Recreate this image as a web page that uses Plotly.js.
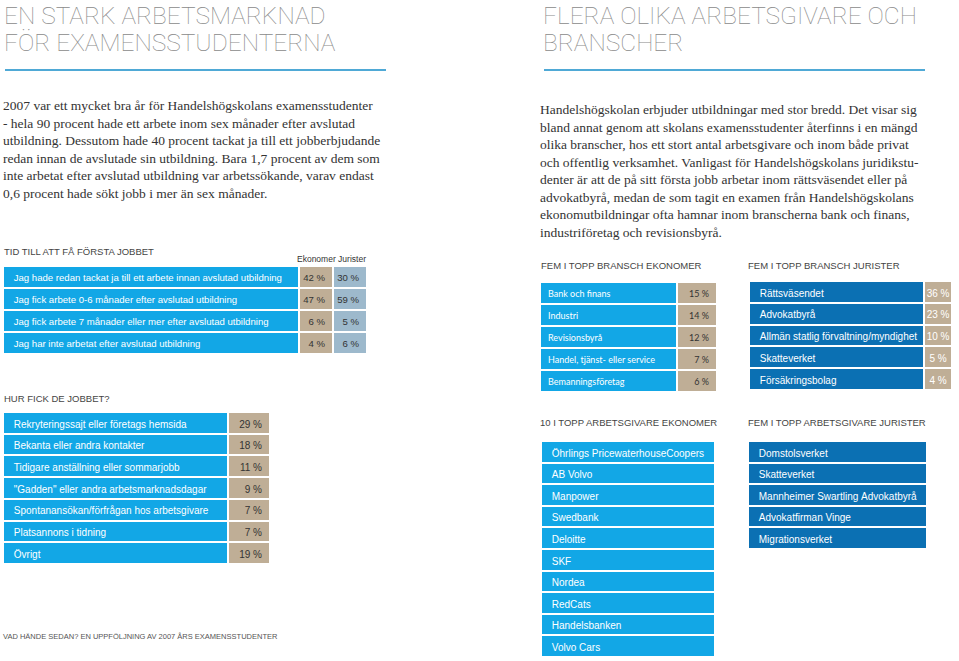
<!DOCTYPE html>
<html>
<head>
<meta charset="utf-8">
<script src="https://cdn.plot.ly/plotly-3.0.1.min.js"></script>
<style>html,body{margin:0;padding:0;background:#fff;}#chart{width:959px;height:661px;}</style>
</head>
<body>
<div id="chart"></div>
<script>
// ---------- DATA ----------
const timeLabels = [
  'Jag hade redan tackat ja till ett arbete innan avslutad utbildning',
  'Jag fick arbete 0-6 månader efter avslutad utbildning',
  'Jag fick arbete 7 månader eller mer efter avslutad utbildning',
  'Jag har inte arbetat efter avslutad utbildning'
];
const timeEkonomer = [42, 47, 6, 4];
const timeJurister = [30, 59, 5, 6];

const howLabels = [
  'Rekryteringssajt eller företags hemsida',
  'Bekanta eller andra kontakter',
  'Tidigare anställning eller sommarjobb',
  '"Gadden" eller andra arbetsmarknadsdagar',
  'Spontanansökan/förfrågan hos arbetsgivare',
  'Platsannons i tidning',
  'Övrigt'
];
const howValues = [29, 18, 11, 9, 7, 7, 19];

const branchEkLabels = ['Bank och finans', 'Industri', 'Revisionsbyrå', 'Handel, tjänst- eller service', 'Bemanningsföretag'];
const branchEkValues = [15, 14, 12, 7, 6];

const branchJurLabels = ['Rättsväsendet', 'Advokatbyrå', 'Allmän statlig förvaltning/myndighet', 'Skatteverket', 'Försäkringsbolag'];
const branchJurValues = [36, 23, 10, 5, 4];

const employersEk = ['Öhrlings PricewaterhouseCoopers', 'AB Volvo', 'Manpower', 'Swedbank', 'Deloitte', 'SKF', 'Nordea', 'RedCats', 'Handelsbanken', 'Volvo Cars'];
const employersJur = ['Domstolsverket', 'Skatteverket', 'Mannheimer Swartling Advokatbyrå', 'Advokatfirman Vinge', 'Migrationsverket'];

const colHeaders = ['Ekonomer', 'Jurister'];

// ---------- STYLE / LAYOUT HELPERS ----------
const W = 959, H = 661;
const BLUE = '#12a7e6', DARK = '#0b70b3', TAN = '#bfae96', GREYBLUE = '#9db9cc';
const SANS = 'Liberation Sans, Arial, sans-serif';
const SERIF = 'Liberation Serif, Times New Roman, serif';
const THIN = 'Roboto, Liberation Sans, sans-serif';
const px = x => x / W;
const py = y => 1 - y / H;
const nb = s => String(s).replace(/ /g, '\u00a0');          // keep cell text on one line
const pct = v => nb(v + ' %');
const lab = s => '\u00a0' + nb(s);
const TOPSHIFT = 16;  // table draws its first row this far below the domain top

function tbl(x0, x1, firstRowTop, bottom, cols, widths, fills, fontColors, aligns, rowH, fam, size) {
  const top = firstRowTop - TOPSHIFT;
  return {
    type: 'table',
    domain: {x: [px(x0), px(x1)], y: [py(Math.min(bottom, H)), py(top)]},
    columnwidth: widths,
    header: {values: [], height: 1, line: {width: 0}, fill: {color: 'rgba(0,0,0,0)'}},
    cells: {
      values: cols,
      height: rowH,
      fill: {color: fills},
      line: {color: 'white', width: 2},
      align: aligns,
      font: {family: fam || SANS, size: size || 10, color: fontColors}
    }
  };
}

const traces = [
  tbl(3, 367, 266, 362, [timeLabels.map(lab), timeEkonomer.map(pct), timeJurister.map(pct)],
      [296, 34, 34], [BLUE, TAN, GREYBLUE], ['white', '#333', '#333'], ['left', 'right', 'right'], 22, SANS, 9.6),
  tbl(3, 270, 412, 575, [howLabels.map(lab), howValues.map(pct)],
      [225, 42], [BLUE, TAN], ['white', '#333'], ['left', 'right'], 21.7),
  tbl(540, 717, 282, 400, [branchEkLabels.map(nb), branchEkValues.map(pct)],
      [137, 40], [BLUE, TAN], ['white', '#333'], ['left', 'right'], 22, 'Lato, Open Sans, sans-serif', 9),
  tbl(749, 953, 281, 400, [branchJurLabels.map(lab), branchJurValues.map(pct)],
      [176, 28], [DARK, TAN], ['white', 'white'], ['left', 'center'], 21.8),
  tbl(541, 715, 441, 661, [employersEk.map(lab)],
      [174], [BLUE], ['white'], ['left'], 21.6),
  tbl(748, 927, 441, 560, [employersJur.map(lab)],
      [179], [DARK], ['white'], ['left'], 21.6)
];

function ann(x, y, text, opts) {
  return Object.assign({
    xref: 'paper', yref: 'paper', x: px(x), y: py(y), text: text,
    showarrow: false, xanchor: 'left', yanchor: 'top', align: 'left',
    font: {family: SANS, size: 10, color: '#333'}
  }, opts || {});
}

const titleFont = {family: THIN, size: 24.5, color: '#8a8a8a', weight: 100};
const headFont = {family: SANS, size: 9.5, color: '#444'};
const bodyFont = {family: SERIF, size: 13.5, color: '#333'};

const leftBody = '2007 var ett mycket bra år för Handelshögskolans examensstudenter<br>' +
  '- hela 90 procent hade ett arbete inom sex månader efter avslutad<br>' +
  'utbildning. Dessutom hade 40 procent tackat ja till ett jobberbjudande<br>' +
  'redan innan de avslutade sin utbildning. Bara 1,7 procent av dem som<br>' +
  'inte arbetat efter avslutad utbildning var arbetssökande, varav endast<br>' +
  '0,6 procent hade sökt jobb i mer än sex månader.';
const rightBody = 'Handelshögskolan erbjuder utbildningar med stor bredd. Det visar sig<br>' +
  'bland annat genom att skolans examensstudenter återfinns i en mängd<br>' +
  'olika branscher, hos ett stort antal arbetsgivare och inom både privat<br>' +
  'och offentlig verksamhet. Vanligast för Handelshögskolans juridikstu-<br>' +
  'denter är att de på sitt första jobb arbetar inom rättsväsendet eller på<br>' +
  'advokatbyrå, medan de som tagit en examen från Handelshögskolans<br>' +
  'ekonomutbildningar ofta hamnar inom branscherna bank och finans,<br>' +
  'industriföretag och revisionsbyrå.';

const annotations = [
  ann(2, -1, 'EN STARK ARBETSMARKNAD', {font: titleFont}),
  ann(2, 26, 'FÖR EXAMENSSTUDENTERNA', {font: titleFont}),
  ann(541, -1, 'FLERA OLIKA ARBETSGIVARE OCH', {font: titleFont}),
  ann(541, 26, 'BRANSCHER', {font: titleFont}),
  ann(1, 95.5, leftBody, {font: bodyFont}),
  ann(538, 100.5, rightBody, {font: bodyFont}),
  ann(2, 244, 'TID TILL ATT FÅ FÖRSTA JOBBET', {font: headFont}),
  ann(295, 252, colHeaders.join(' '), {font: {family: SANS, size: 8.5, color: '#333'}}),
  ann(2, 391, 'HUR FICK DE JOBBET?', {font: headFont}),
  ann(539, 258, 'FEM I TOPP BRANSCH EKONOMER', {font: headFont}),
  ann(746, 258, 'FEM I TOPP BRANSCH JURISTER', {font: headFont}),
  ann(538, 415, '10 I TOPP ARBETSGIVARE EKONOMER', {font: headFont}),
  ann(746, 415, 'FEM I TOPP ARBETSGIVARE JURISTER', {font: headFont}),
  ann(1, 630, 'VAD HÄNDE SEDAN? EN UPPFÖLJNING AV 2007 ÅRS EXAMENSSTUDENTER', {font: {family: SANS, size: 7.5, color: '#555'}})
];

const shapes = [
  {type: 'line', xref: 'paper', yref: 'paper', x0: px(5), x1: px(386), y0: py(70), y1: py(70), line: {color: '#4fa9d6', width: 2}},
  {type: 'line', xref: 'paper', yref: 'paper', x0: px(544), x1: px(925), y0: py(70), y1: py(70), line: {color: '#4fa9d6', width: 2}}
];

const layout = {
  width: W, height: H,
  margin: {l: 0, r: 0, t: 0, b: 0},
  paper_bgcolor: '#fff', plot_bgcolor: '#fff',
  showlegend: false,
  annotations: annotations,
  shapes: shapes
};

Plotly.newPlot('chart', traces, layout, {displayModeBar: false, staticPlot: true});
</script>
</body>
</html>
